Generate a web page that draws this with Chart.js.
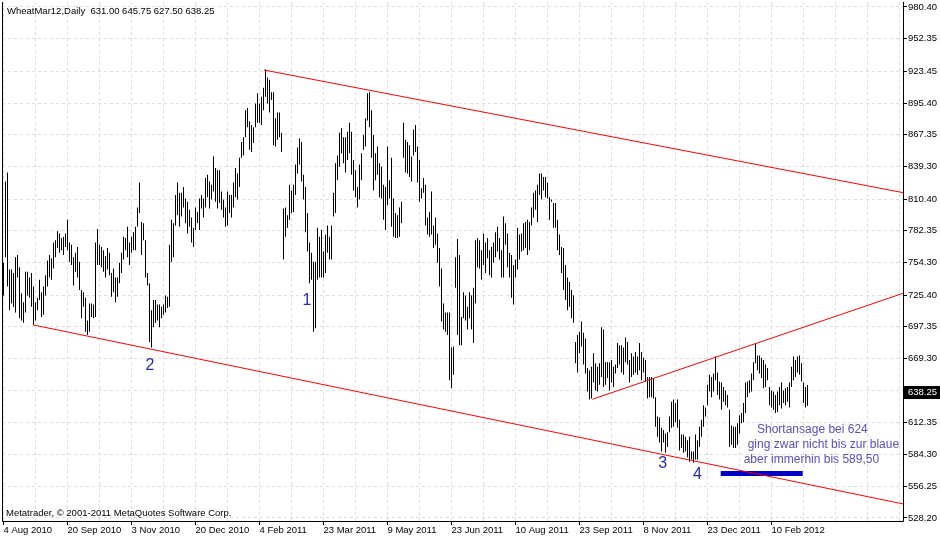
<!DOCTYPE html>
<html>
<head>
<meta charset="utf-8">
<script src="https://cdn.jsdelivr.net/npm/chart.js@4.4.1/dist/chart.umd.min.js"></script>
<style>
  html, body { margin: 0; padding: 0; background: #fff; }
  #wrap { width: 940px; height: 538px; }
</style>
</head>
<body>
<div id="wrap"><canvas id="chart" width="940" height="538"></canvas></div>
<script>
// Daily bars, one per trading day starting 4 Aug 2010 (high / low, US cents per bushel)
const highs = [
  754, 826, 834, 748, 748, 745, 759, 761, 750, 727,
  719, 746, 746, 741, 745, 733, 719, 723, 739, 728,
  733, 743, 756, 761, 758, 772, 774, 782, 780, 776,
  777, 780, 792, 772, 770, 759, 763, 768, 755, 730,
  728, 723, 703, 718, 718, 717, 772, 784, 770, 768,
  765, 760, 767, 763, 745, 749, 741, 741, 754, 763,
  777, 776, 786, 772, 777, 781, 786,
  803, 825, 790, 789, 774, 745, 736, 712, 721, 721,
  717, 717, 715, 717, 725, 724, 770, 792, 789, 814,
  825, 816, 816, 821, 811, 808, 801, 794, 785, 803,
  799, 811, 814, 811, 829, 832, 826, 823, 848, 838,
  836, 836, 817, 810, 803, 817, 814, 814, 825, 838,
  833, 847, 861, 865, 889, 891, 879, 876, 874, 895,
  904, 895, 901, 909, 925, 918, 916, 905,
  905, 882, 887, 887, 869, 802, 803, 796, 823, 818,
  823, 841, 856, 864, 861, 832, 821, 798, 772, 763,
  755, 755, 785, 777, 783, 764, 779, 787, 777, 787,
  816, 842, 849, 869, 873, 865, 865, 870, 878, 870,
  845, 836, 821, 841, 851, 867, 882, 904, 905, 889,
  867, 851, 857, 842, 839, 823, 821, 857, 827, 847,
  811, 798, 796, 803, 808, 878, 863, 861, 858, 848,
  872, 876, 857, 845,
  820, 829, 823, 794, 799, 817, 787, 794, 780, 767,
  749, 718, 710, 710, 710, 679, 680, 759, 775, 761,
  706, 728, 725, 715, 728, 725, 732, 774, 776, 774,
  765, 780, 772, 776, 765, 768, 772, 781, 786, 776,
  765, 795, 789, 780, 763, 761, 752, 757, 785, 779,
  780, 789, 790, 792, 790, 803, 816, 818, 823, 833,
  833, 830, 830, 825, 812, 810, 807, 807, 792, 779,
  768, 767, 752, 741,
  737, 730, 725, 684, 690, 693, 702, 692, 687, 661,
  659, 662, 674, 665, 662, 665, 697, 695, 666, 666,
  666, 668, 662, 664, 683, 681, 681, 679, 688, 684,
  668, 674, 671, 675, 671, 683, 675, 670, 668, 653,
  653, 653, 652, 635, 618, 617, 608, 606, 603, 604,
  618, 631, 633, 630, 633, 615, 602, 602, 600, 597,
  600, 587, 587, 602,
  597, 609, 615, 628, 626, 646, 655, 653, 656, 671,
  657, 649, 648, 644, 641, 637, 624, 610, 609, 609,
  612, 619, 621, 630, 648, 649, 650, 656, 666, 683,
  672, 672, 670, 668, 664, 661, 644, 641, 640, 637,
  640, 644, 648, 641, 643, 644, 648, 662, 671, 668,
  671, 672, 665, 648, 644, 645.75
];
const lows = [
  725, 759, 733, 712, 718, 715, 710, 741, 705, 703,
  701, 710, 725, 723, 715, 699, 703, 712, 721, 706,
  708, 725, 733, 741, 739, 749, 759, 767, 763, 765,
  761, 768, 765, 755, 752, 734, 746, 741, 730, 705,
  715, 693, 690, 693, 706, 705, 706, 752, 752, 750,
  746, 741, 748, 743, 724, 728, 719, 724, 736, 745,
  757, 765, 759, 752, 763, 765, 765,
  786, 798, 761, 774, 741, 734, 684, 679, 697, 701,
  703, 697, 705, 708, 710, 714, 715, 755, 759, 787,
  796, 786, 795, 803, 789, 780, 786, 772, 768, 783,
  789, 783, 802, 794, 803, 812, 802, 810, 817, 808,
  802, 807, 801, 794, 786, 787, 798, 794, 803, 812,
  810, 821, 847, 849, 865, 874, 854, 852, 860, 874,
  878, 878, 876, 889, 901, 895, 887, 898,
  858, 857, 863, 865, 852, 757, 777, 785, 792, 798,
  799, 814, 833, 841, 826, 810, 781, 764, 736, 739,
  693, 696, 739, 741, 741, 741, 745, 763, 757, 757,
  795, 798, 827, 839, 851, 842, 834, 845, 851, 832,
  818, 812, 803, 810, 827, 854, 857, 880, 874, 847,
  818, 827, 832, 812, 811, 792, 783, 805, 811, 786,
  777, 776, 776, 777, 789, 847, 834, 833, 830, 826,
  849, 852, 825, 808,
  811, 816, 787, 779, 777, 779, 767, 770, 754, 733,
  702, 695, 693, 690, 650, 643, 655, 732, 690, 681,
  681, 705, 703, 695, 705, 695, 683, 718, 750, 749,
  739, 752, 745, 758, 743, 741, 754, 759, 764, 757,
  741, 741, 770, 750, 741, 723, 717, 741, 748, 757,
  764, 765, 767, 761, 765, 787, 794, 801, 790, 814,
  810, 818, 812, 811, 792, 808, 785, 785, 765, 761,
  745, 730, 721, 712,
  715, 705, 701, 665, 657, 674, 680, 664, 656, 640,
  633, 634, 648, 641, 640, 646, 653, 644, 646, 652,
  641, 648, 644, 656, 661, 664, 657, 655, 666, 664,
  648, 653, 655, 657, 655, 659, 650, 657, 649, 634,
  635, 635, 634, 609, 600, 595, 587, 595, 586, 591,
  604, 608, 609, 613, 608, 588, 590, 586, 587, 582,
  578, 580, 577, 580,
  580, 591, 600, 609, 618, 628, 640, 635, 640, 650,
  637, 633, 624, 631, 628, 626, 591, 593, 590, 590,
  593, 603, 612, 613, 621, 635, 639, 640, 650, 665,
  659, 656, 652, 643, 644, 650, 628, 626, 624, 621,
  622, 628, 625, 630, 628, 631, 626, 644, 650, 653,
  657, 655, 649, 630, 626, 627.5
];

// x axis labels, one every 32 bars
const tickLabels = [
  "4 Aug 2010", "20 Sep 2010", "3 Nov 2010", "20 Dec 2010", "4 Feb 2011",
  "23 Mar 2011", "9 May 2011", "23 Jun 2011", "10 Aug 2011", "23 Sep 2011",
  "8 Nov 2011", "23 Dec 2011", "10 Feb 2012"
];
// price scale on the right
const yTicks = [980.40, 952.35, 923.45, 895.40, 867.35, 839.30, 810.40, 782.35, 754.30,
                725.40, 697.35, 669.30, 641.25, 612.35, 584.30, 556.25, 528.20];
const yTickLabels = ["980.40", "952.35", "923.45", "895.40", "867.35", "839.30", "810.40", "782.35", "754.30",
                     "725.40", "697.35", "669.30", "", "612.35", "584.30", "556.25", "528.20"];

const lastBar = { open: 631.00, high: 645.75, low: 627.50, close: 638.25 };
const symbolName = "WheatMar12,Daily";
const footerText = "Metatrader, \u00a9 2001-2011 MetaQuotes Software Corp.";

// drawn trend lines (bar index, price)
const upperChannel = [{ x: 130.25, y: 924.6 }, { x: 449.75, y: 816.1 }];
const lowerChannel = [{ x: 14.9, y: 699.0 }, { x: 449.75, y: 540.6 }];
const risingLine = [{ x: 294.4, y: 633.2 }, { x: 449.75, y: 727.0 }];
const targetLevel = [{ x: 358.6, y: 567.6 }, { x: 399.6, y: 567.6 }];

// wave counts
const waveLabels = ["1", "2", "3", "4"];
const waveX = [151.75, 73.25, 329.6, 347];
const waveY = [716.7, 659.1, 572.1, 562.7];

// comment text
const noteLines = ["Shortansage bei 624", "ging zwar nicht bis zur blaue", "aber immerhin bis 589,50"];
const noteX = [376.75, 372.1, 370.1];
const noteY = [603.7, 589.9, 576.6];

const axisFont = { family: "'Liberation Sans', Arial, sans-serif", size: 9.5 };
const axisFontStr = "9.5px 'Liberation Sans', Arial, sans-serif";
const gridColor = "#dedede";

const overlay = {
  id: "overlay",
  afterDraw(chart) {
    const { ctx, chartArea: a, scales: { x, y } } = chart;
    ctx.save();

    // frame
    ctx.strokeStyle = "#000";
    ctx.lineWidth = 1;
    ctx.beginPath();
    ctx.moveTo(a.left + 0.5, a.top);
    ctx.lineTo(a.left + 0.5, a.bottom + 0.5);
    ctx.lineTo(a.right + 0.5, a.bottom + 0.5);
    ctx.lineTo(a.right + 0.5, a.top);
    ctx.stroke();

    // wave counts
    ctx.font = "16px 'Liberation Sans', Arial, sans-serif";
    ctx.fillStyle = "#2b2ba6";
    ctx.textAlign = "center";
    ctx.textBaseline = "alphabetic";
    waveLabels.forEach((t, i) => {
      ctx.fillText(t, x.getPixelForValue(waveX[i]), y.getPixelForValue(waveY[i]));
    });

    // comment, clipped to the plot
    ctx.save();
    ctx.beginPath();
    ctx.rect(a.left, a.top, a.right - a.left, a.bottom - a.top);
    ctx.clip();
    ctx.font = "12px 'Liberation Sans', Arial, sans-serif";
    ctx.fillStyle = "#5a50bc";
    ctx.textAlign = "left";
    noteLines.forEach((t, i) => {
      ctx.fillText(t, x.getPixelForValue(noteX[i]), y.getPixelForValue(noteY[i]));
    });
    ctx.restore();

    // header and footer
    ctx.font = axisFontStr;
    ctx.fillStyle = "#000";
    ctx.textAlign = "left";
    ctx.textBaseline = "alphabetic";
    const head = symbolName + "  " + [lastBar.open, lastBar.high, lastBar.low, lastBar.close]
      .map(v => v.toFixed(2)).join(" ");
    ctx.fillText(head, 7, 14);
    ctx.fillText(footerText, 6, 516);

    // last price box on the axis
    const py = y.getPixelForValue(lastBar.close);
    ctx.fillStyle = "#000";
    ctx.fillRect(a.right, Math.round(py) - 8, chart.width - a.right, 13);
    ctx.fillStyle = "#fff";
    ctx.textBaseline = "middle";
    ctx.fillText(lastBar.close.toFixed(2), a.right + 5, Math.round(py) - 1.5);

    ctx.restore();
  }
};

const lineDs = (data, color, width) => ({
  type: "line",
  data: data,
  borderColor: color,
  borderWidth: width,
  borderCapStyle: "butt",
  pointRadius: 0,
  tension: 0,
  fill: false,
  order: 1
});

new Chart(document.getElementById("chart"), {
  type: "bar",
  data: {
    datasets: [
      {
        type: "bar",
        data: highs.map((h, i) => ({ x: i, y: [lows[i], h] })),
        backgroundColor: "#000",
        borderWidth: 0,
        barThickness: 1,
        inflateAmount: 0,
        order: 2
      },
      lineDs(upperChannel, "#ff0000", 1),
      lineDs(lowerChannel, "#ff0000", 1),
      lineDs(risingLine, "#ff0000", 1),
      lineDs(targetLevel, "#0000c8", 5)
    ]
  },
  options: {
    responsive: false,
    animation: false,
    events: [],
    layout: { padding: { left: 2, top: 2, right: 0, bottom: 0 } },
    plugins: { legend: { display: false }, tooltip: { enabled: false } },
    scales: {
      x: {
        type: "linear",
        offset: false,
        min: -0.75,
        max: 449.75,
        afterBuildTicks: s => {
          const t = [];
          for (let v = 0; v <= 448; v += 16) t.push({ value: v });
          s.ticks = t;
        },
        afterFit: s => { s.height = 17; s.paddingLeft = 0; s.paddingRight = 0; },
        ticks: {
          autoSkip: false,
          maxRotation: 0,
          minRotation: 0,
          align: "start",
          padding: 0,
          color: "#000",
          font: axisFont,
          callback: v => (v % 32 === 0 && tickLabels[v / 32]) ? tickLabels[v / 32] : ""
        },
        grid: {
          offset: false,
          color: gridColor,
          lineWidth: 1,
          tickLength: 4,
          tickWidth: 1,
          tickColor: c => (c.tick && c.tick.value % 32 === 0 && tickLabels[c.tick.value / 32]) ? "#000" : "rgba(0,0,0,0)"
        },
        border: { display: false, dash: [3, 3] }
      },
      y: {
        type: "linear",
        position: "right",
        min: 525.5,
        max: 984.8,
        afterBuildTicks: s => { s.ticks = yTicks.map(v => ({ value: v })); },
        afterFit: s => { s.width = 37; s.paddingTop = 0; s.paddingBottom = 0; },
        ticks: {
          padding: 1,
          color: "#000",
          font: axisFont,
          callback: v => yTickLabels[yTicks.indexOf(v)]
        },
        grid: { color: gridColor, lineWidth: 1, tickLength: 4, tickWidth: 1, tickColor: "#000" },
        border: { display: false, dash: [3, 3] }
      }
    }
  },
  plugins: [overlay]
});
</script>
</body>
</html>
